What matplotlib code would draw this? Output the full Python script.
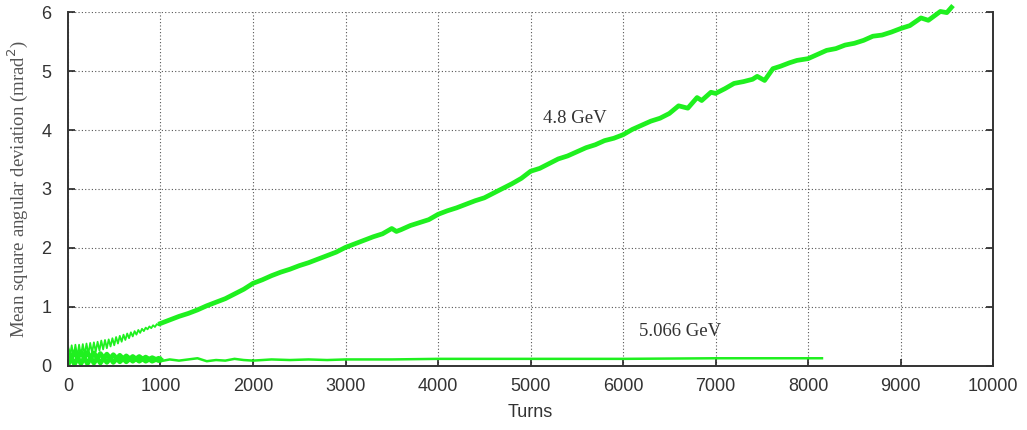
# Mean square angular deviation vs turns, two beam energies
import matplotlib
matplotlib.use("Agg")
import matplotlib.pyplot as plt

# 4.8 GeV - early band (fast oscillation, first 1000 turns)
turns_48_early = list(range(0, 1001, 20))
msd_48_early = [0.35, 0.14, 0.35, 0.15, 0.36, 0.16, 0.36, 0.17, 0.37, 0.19,
                0.38, 0.20, 0.39, 0.22, 0.40, 0.24, 0.41, 0.26, 0.43, 0.28,
                0.44, 0.30, 0.45, 0.33, 0.47, 0.35, 0.49, 0.38, 0.51, 0.41,
                0.53, 0.44, 0.55, 0.47, 0.57, 0.50, 0.59, 0.53, 0.61, 0.56,
                0.63, 0.59, 0.65, 0.62, 0.67, 0.64, 0.69, 0.66, 0.71, 0.69, 0.72]

# 4.8 GeV - main curve
turns_48 = [1000, 1100, 1200, 1300, 1400, 1500, 1600, 1700, 1800, 1900,
            2000, 2100, 2200, 2300, 2400, 2500, 2600, 2700, 2800, 2900,
            3000, 3100, 3200, 3300, 3400, 3500, 3550, 3600, 3700, 3800, 3900,
            4000, 4100, 4200, 4300, 4400, 4500, 4600, 4700, 4800, 4900,
            5000, 5100, 5200, 5300, 5400, 5500, 5600, 5700, 5800, 5900,
            6000, 6100, 6200, 6300, 6400, 6500, 6600, 6700, 6800, 6850, 6950,
            7000, 7100, 7200, 7300, 7400, 7450, 7530, 7620, 7700, 7800, 7880,
            8000, 8100, 8200, 8300, 8400, 8500, 8600, 8700, 8800, 8900,
            9000, 9100, 9220, 9300, 9430, 9500, 9550]
msd_48 = [0.72, 0.78, 0.84, 0.89, 0.95, 1.02, 1.08, 1.14, 1.22, 1.30,
          1.40, 1.46, 1.53, 1.59, 1.64, 1.70, 1.75, 1.81, 1.87, 1.93,
          2.01, 2.07, 2.13, 2.19, 2.24, 2.33, 2.28, 2.31, 2.38, 2.43, 2.48,
          2.57, 2.63, 2.68, 2.74, 2.80, 2.85, 2.93, 3.01, 3.09, 3.18,
          3.30, 3.35, 3.43, 3.51, 3.56, 3.63, 3.70, 3.75, 3.82, 3.86,
          3.92, 4.01, 4.08, 4.15, 4.20, 4.28, 4.41, 4.37, 4.55, 4.50, 4.64,
          4.62, 4.70, 4.79, 4.82, 4.86, 4.91, 4.84, 5.04, 5.08, 5.14, 5.18,
          5.21, 5.28, 5.35, 5.38, 5.44, 5.47, 5.52, 5.59, 5.61, 5.66,
          5.72, 5.77, 5.90, 5.86, 6.01, 5.99, 6.08]

# 5.066 GeV - early beating pattern (two phases)
turns_5066_early = [0, 70, 140, 210, 280, 350, 420, 490, 560, 630, 700, 770, 840, 910, 980, 1000]
msd_5066_a = [0.25, 0.03, 0.24, 0.04, 0.22, 0.05, 0.20, 0.06, 0.18, 0.07, 0.16, 0.08, 0.15, 0.08, 0.13, 0.11]
msd_5066_b = [0.02, 0.24, 0.04, 0.23, 0.05, 0.21, 0.06, 0.19, 0.07, 0.17, 0.08, 0.16, 0.08, 0.14, 0.09, 0.11]

# 5.066 GeV - later flat part
turns_5066 = [1000, 1100, 1200, 1300, 1400, 1500, 1600, 1700, 1800, 1900, 2000,
              2200, 2400, 2600, 2800, 3000, 3500, 4000, 5000, 6000, 7000, 8000, 8150]
msd_5066 = [0.08, 0.11, 0.09, 0.11, 0.13, 0.08, 0.10, 0.09, 0.12, 0.10, 0.09,
            0.11, 0.10, 0.11, 0.10, 0.11, 0.11, 0.12, 0.12, 0.12, 0.13, 0.13, 0.13]

green = '#1ff01f'

fig = plt.figure(figsize=(10.27, 4.30), dpi=100)
ax = fig.add_axes([0.0662, 0.149, 0.9008, 0.823])

ax.plot(turns_48_early, msd_48_early, color=green, lw=1.3)
ax.plot(turns_48, msd_48, color=green, lw=3.4, solid_joinstyle='round', clip_on=False)
ax.plot(turns_5066_early, msd_5066_a, color=green, lw=3.4)
ax.plot(turns_5066_early, msd_5066_b, color=green, lw=3.4)
ax.plot(turns_5066, msd_5066, color=green, lw=1.8)

ax.set_xlim(0, 10000)
ax.set_ylim(0, 6)
ax.set_xticks(range(0, 10001, 1000))
ax.set_yticks(range(0, 7))

ax.grid(True, color='#555555', linestyle=(0, (1, 2)), linewidth=0.8)
ax.set_axisbelow(True)

for s in ['left', 'bottom', 'right']:
    ax.spines[s].set_color('#333333')
    ax.spines[s].set_linewidth(1.4)
ax.spines['top'].set_visible(False)

ax.tick_params(direction='in', length=5, width=1.2, color='#222222',
               labelsize=13, labelcolor='#333333', right=True, top=False)
ax.tick_params(axis='x', pad=9)
ax.tick_params(axis='y', pad=12)
for lab in ax.get_xticklabels() + ax.get_yticklabels():
    lab.set_fontfamily('Liberation Sans')

ax.set_xlabel('Turns', fontsize=13, family='Liberation Sans', color='#333333', labelpad=6)
ax.set_ylabel('Mean square angular deviation (mrad$^2$)', fontsize=13.5,
              family='Liberation Serif', color='#555555', labelpad=8)

ax.text(5480, 4.2, '4.8 GeV', fontsize=13.5, family='Liberation Serif',
        color='#333333', ha='center', va='center')
ax.text(6615, 0.59, '5.066 GeV', fontsize=13.5, family='Liberation Serif',
        color='#333333', ha='center', va='center')

fig.savefig('out.png', dpi=100)
